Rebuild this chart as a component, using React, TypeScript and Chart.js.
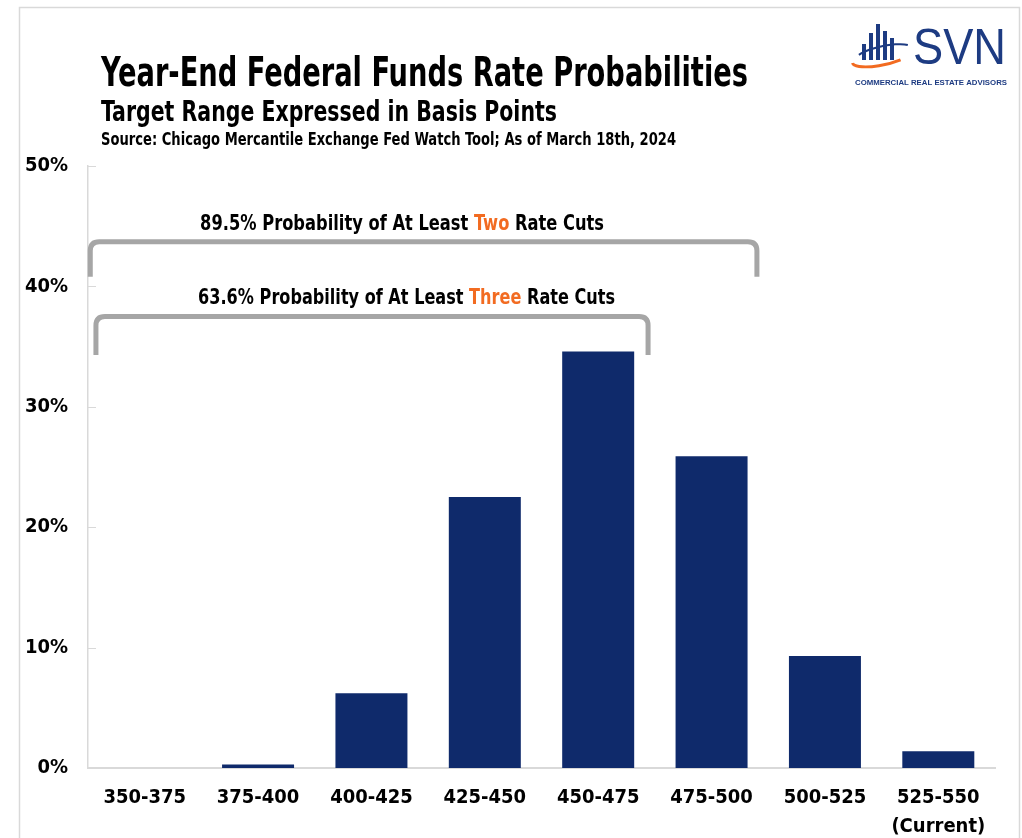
import React, { useEffect, useRef } from "react";
import { Chart, registerables } from "chart.js";

Chart.register(...registerables);

const categories: (string | string[])[] = [
  "350-375",
  "375-400",
  "400-425",
  "425-450",
  "450-475",
  "475-500",
  "500-525",
  ["525-550", "(Current)"],
];
const probabilities: number[] = [0, 0.3, 6.2, 22.5, 34.6, 25.9, 9.3, 1.4];
const yTicks: number[] = [0, 10, 20, 30, 40, 50];

const titleText = "Year-End Federal Funds Rate Probabilities";
const subtitleText = "Target Range Expressed in Basis Points";
const sourceText = "Source: Chicago Mercantile Exchange Fed Watch Tool; As of March 18th, 2024";
const bracketTwo = ["89.5% Probability of At Least ", "Two", " Rate Cuts"];
const bracketThree = ["63.6% Probability of At Least ", "Three", " Rate Cuts"];

const FONT = '"Liberation Sans Narrow", "DejaVu Sans Condensed", "Arial Narrow", sans-serif';
const NAVY = "#0f2a6b";
const ORANGE = "#f26b21";
const GRAY = "#a6a6a6";
const LOGO = "#1d3b82";

function fitText(ctx: CanvasRenderingContext2D, text: string, x: number, y: number, width: number) {
  const w = ctx.measureText(text).width;
  ctx.save();
  ctx.translate(x, y);
  ctx.scale(width / w, 1);
  ctx.fillText(text, 0, 0);
  ctx.restore();
}

function drawMixed(ctx: CanvasRenderingContext2D, parts: string[], cx: number, cy: number, width: number) {
  const widths = parts.map((p) => ctx.measureText(p).width);
  const total = widths.reduce((a, b) => a + b, 0);
  const k = width / total;
  ctx.save();
  ctx.translate(cx - width / 2, cy);
  ctx.scale(k, 1);
  let x = 0;
  parts.forEach((p, i) => {
    ctx.fillStyle = i === 1 ? ORANGE : "#000";
    ctx.fillText(p, x, 0);
    x += widths[i];
  });
  ctx.restore();
}

function drawBracket(ctx: CanvasRenderingContext2D, x1: number, x2: number, yTop: number, yBot: number) {
  const r = 9;
  ctx.beginPath();
  ctx.moveTo(x1, yBot);
  ctx.lineTo(x1, yTop + r);
  ctx.quadraticCurveTo(x1, yTop, x1 + r, yTop);
  ctx.lineTo(x2 - r, yTop);
  ctx.quadraticCurveTo(x2, yTop, x2, yTop + r);
  ctx.lineTo(x2, yBot);
  ctx.stroke();
}

const decorPlugin = {
  id: "decor",
  afterDraw(chart: any) {
    const ctx: CanvasRenderingContext2D = chart.ctx;
    const x = chart.scales.x;
    const y = chart.scales.y;
    ctx.save();

    // frame
    ctx.strokeStyle = "#d9d9d9";
    ctx.lineWidth = 1.5;
    ctx.strokeRect(19.5, 7.5, 1000, 860);

    // inner ticks on y axis
    ctx.strokeStyle = "#d9d9d9";
    ctx.lineWidth = 1;
    yTicks.forEach((v) => {
      const py = Math.round(y.getPixelForValue(v)) + 0.5;
      ctx.beginPath();
      ctx.moveTo(chart.chartArea.left, py);
      ctx.lineTo(chart.chartArea.left + 8, py);
      ctx.stroke();
    });

    // titles
    ctx.fillStyle = "#000";
    ctx.textBaseline = "alphabetic";
    ctx.textAlign = "left";
    ctx.font = `bold 41px ${FONT}`;
    fitText(ctx, titleText, 101, 86, 647);
    ctx.font = `bold 28px ${FONT}`;
    fitText(ctx, subtitleText, 101, 121, 456);
    ctx.font = `bold 17px ${FONT}`;
    fitText(ctx, sourceText, 101, 145, 575);

    // brackets
    ctx.strokeStyle = GRAY;
    ctx.lineWidth = 5;
    ctx.lineCap = "butt";
    drawBracket(ctx, x.getPixelForValue(-0.48), x.getPixelForValue(5.4), y.getPixelForValue(43.7), y.getPixelForValue(40.8));
    drawBracket(ctx, x.getPixelForValue(-0.43), x.getPixelForValue(4.44), y.getPixelForValue(37.5), y.getPixelForValue(34.3));

    ctx.font = `bold 22px ${FONT}`;
    ctx.textBaseline = "middle";
    drawMixed(ctx, bracketTwo, x.getPixelForValue(2.27), y.getPixelForValue(45.2), 404);
    drawMixed(ctx, bracketThree, x.getPixelForValue(2.31), y.getPixelForValue(39.0), 417);

    // logo
    const logoBars = [
      [862, 44],
      [869, 33],
      [876, 24],
      [883, 31],
      [890, 38],
    ];
    ctx.fillStyle = LOGO;
    logoBars.forEach(([bx, top]) => {
      ctx.fillRect(bx, top, 4, 60 - top);
    });
    ctx.strokeStyle = ORANGE;
    ctx.lineWidth = 3;
    ctx.beginPath();
    ctx.ellipse(882, 57, 30, 8, -0.2, 0.3 * Math.PI, 1.0 * Math.PI);
    ctx.stroke();
    ctx.strokeStyle = LOGO;
    ctx.lineWidth = 2;
    ctx.beginPath();
    ctx.ellipse(884, 53, 28, 7, -0.2, 1.15 * Math.PI, 1.85 * Math.PI);
    ctx.stroke();

    ctx.fillStyle = LOGO;
    ctx.textBaseline = "alphabetic";
    ctx.font = `50px "Liberation Sans", Arial, sans-serif`;
    fitText(ctx, "SVN", 913, 64, 93);
    ctx.font = `bold 8px "Liberation Sans", Arial, sans-serif`;
    fitText(ctx, "COMMERCIAL REAL ESTATE ADVISORS", 855, 85, 152);

    ctx.restore();
  },
};

export default function App() {
  const canvasRef = useRef<HTMLCanvasElement | null>(null);

  useEffect(() => {
    const canvas = canvasRef.current;
    if (!canvas) return;
    const chart = new Chart(canvas, {
      type: "bar",
      data: {
        labels: categories,
        datasets: [
          {
            data: probabilities,
            backgroundColor: NAVY,
            borderWidth: 0,
            barPercentage: 0.635,
            categoryPercentage: 1,
          },
        ],
      },
      options: {
        responsive: false,
        animation: false,
        devicePixelRatio: 1,
        layout: { padding: { top: 166, right: 27, bottom: 0, left: 0 } },
        plugins: {
          legend: { display: false },
          title: { display: false },
          tooltip: { enabled: false },
        },
        scales: {
          x: {
            grid: { display: false, drawTicks: false },
            border: { display: true, color: "#d9d9d9", width: 2 },
            ticks: {
              color: "#000",
              font: { family: FONT, size: 20, weight: "bold", lineHeight: 1.45 },
              padding: 15,
              maxRotation: 0,
              autoSkip: false,
            },
            afterFit: (s: any) => {
              s.height = 70;
            },
          },
          y: {
            min: 0,
            max: 50,
            grid: { display: false, drawTicks: false },
            border: { display: true, color: "#d9d9d9", width: 1.5 },
            ticks: {
              stepSize: 10,
              color: "#000",
              padding: 20,
              font: { family: FONT, size: 20, weight: "bold" },
              callback: (v: any) => `${v}%`,
            },
            afterFit: (s: any) => {
              s.width = 88;
            },
          },
        },
      },
      plugins: [decorPlugin],
    });
    return () => chart.destroy();
  }, []);

  return (
    <div style={{ position: "fixed", left: 0, top: 0, width: 1022, height: 838, background: "#fff" }}>
      <canvas ref={canvasRef} width={1022} height={838} style={{ width: 1022, height: 838, display: "block" }} />
    </div>
  );
}
